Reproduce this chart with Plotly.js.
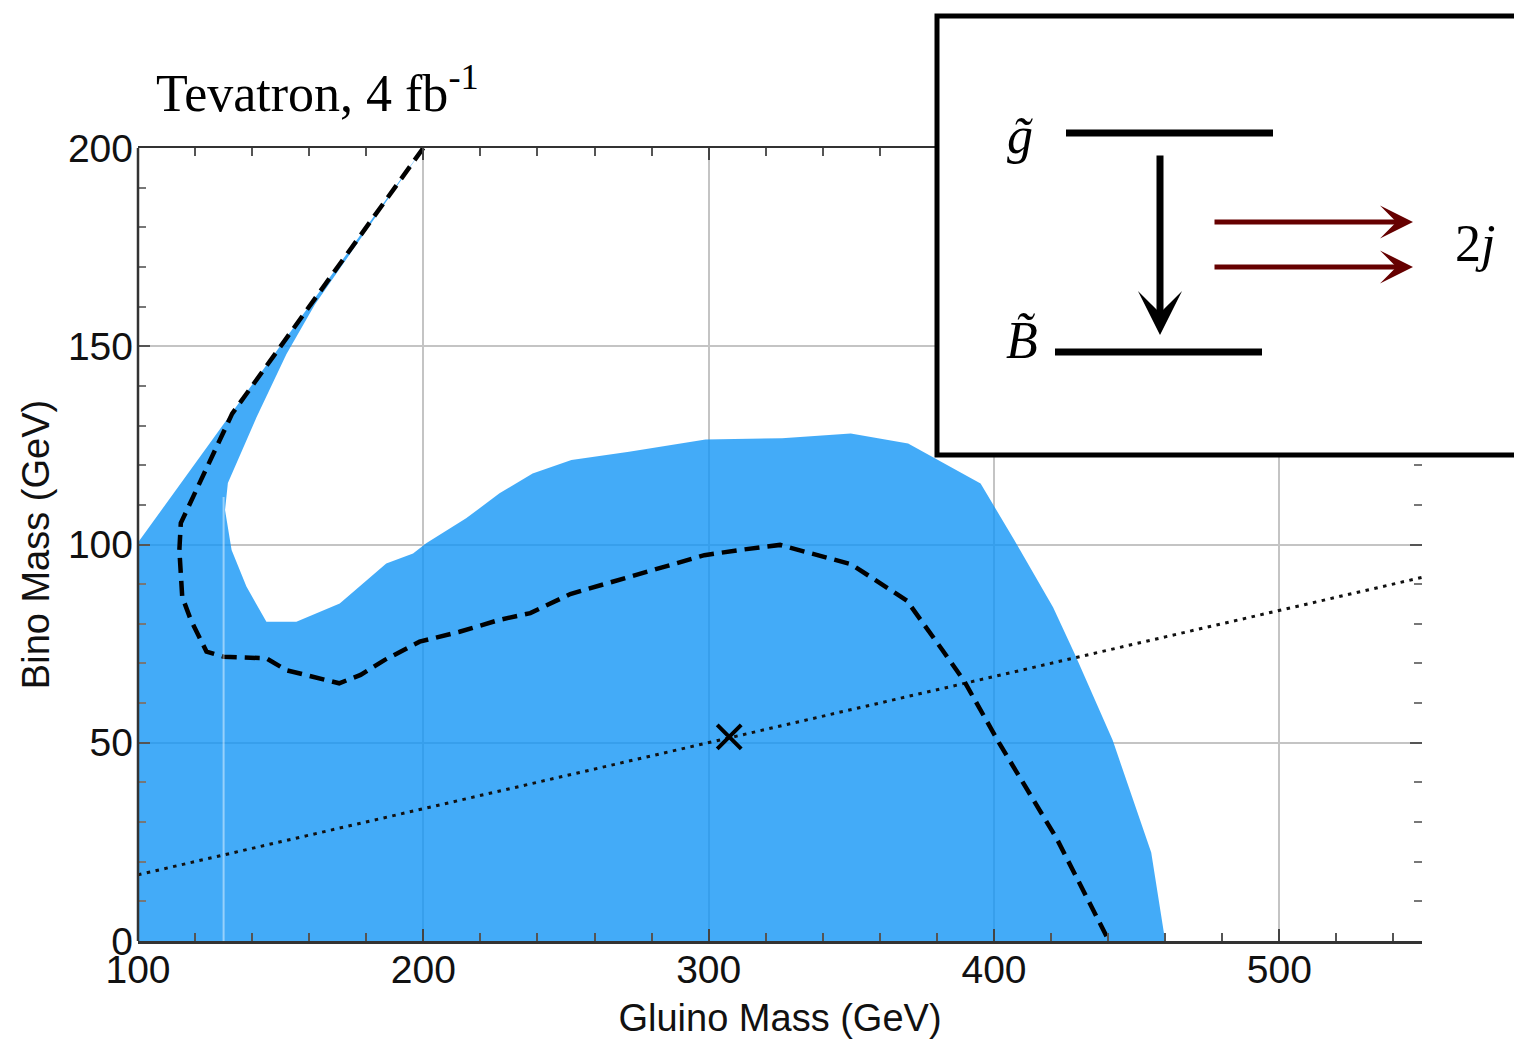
<!DOCTYPE html>
<html>
<head>
<meta charset="utf-8">
<script src="https://cdn.plot.ly/plotly-3.0.1.min.js"></script>
<style>
  html, body { margin: 0; padding: 0; background: #ffffff; }
  #chart { width: 1514px; height: 1039px; }
</style>
</head>
<body>
<div id="chart"></div>
<script>
// ---- Data ----
// Excluded region (blue polygon): gluino mass (x) vs bino mass (y)
const regionGluino = [100, 100, 200, 162, 152, 141.5, 131.5, 130.5, 132.8, 138, 145, 155.5, 170.7, 187, 196.4, 201, 215, 226.7, 238.3, 251.9, 272.1, 298.9, 325.7, 349.8, 369.9, 395.3, 407.2, 420.7, 428.1, 441.6, 455.1, 460, 100];
const regionBino   = [0, 100.5, 200, 160.5, 148, 132, 115.5, 108.7, 98.6, 89.4, 80.5, 80.5, 85.1, 95.2, 97.7, 100.3, 106.6, 112.9, 117.9, 121.3, 123.4, 126.5, 126.8, 128, 125.5, 115.4, 101, 84.2, 72.7, 50.6, 22.3, 0, 0];

// Dashed contour
const dashedGluino = [200, 133, 115, 114.5, 115.5, 118.5, 124, 130, 145, 152, 170.5, 178, 186.5, 198.7, 212.7, 226.7, 237.5, 251.5, 272, 298.5, 310.7, 325, 350, 369.5, 381.9, 389.5, 402, 422, 440.3];
const dashedBino   = [200, 133, 105.4, 98.6, 86.8, 81, 73, 71.7, 71.3, 68.3, 65, 67.1, 70.9, 75.5, 78, 81, 82.7, 87.5, 91.8, 97.3, 98.6, 99.9, 95, 85.8, 73.4, 65.6, 49.7, 25.8, 0];

// Dotted benchmark line
const dottedGluino = [100, 550];
const dottedBino   = [16.7, 91.7];

// Benchmark point (X)
const pointGluino = [307.2];
const pointBino   = [51.5];

// Axis ticks
const xTickVals = [100, 200, 300, 400, 500];
const yTickVals = [0, 50, 100, 150, 200];

// Texts
const titleText = 'Tevatron, 4 fb<sup>-1</sup>';
const xTitle = 'Gluino Mass (GeV)';
const yTitle = 'Bino Mass (GeV)';
const labelGluino = '<i>g\u0303</i>';
const labelBino = '<i>B\u0303</i>';
const labelJets = '2<i>j</i>';

// ---- Layout helpers: pixel -> paper coordinates ----
const W = 1514, H = 1039;
const M = { l: 138, r: 92, t: 148, b: 98 };
const PW = W - M.l - M.r, PH = H - M.t - M.b;
const px = (x) => (x - M.l) / PW;
const py = (y) => (H - M.b - y) / PH;

const traces = [
  {
    x: regionGluino, y: regionBino, type: 'scatter', mode: 'lines',
    fill: 'toself', fillcolor: 'rgba(20,150,246,0.80)',
    line: { width: 0, color: 'rgba(0,0,0,0)' }, hoverinfo: 'skip', showlegend: false
  },
  {
    x: dottedGluino, y: dottedBino, type: 'scatter', mode: 'lines',
    line: { color: '#111', width: 3, dash: '3.5px,5.5px' }, showlegend: false
  },
  {
    x: dashedGluino, y: dashedBino, type: 'scatter', mode: 'lines',
    line: { color: '#000', width: 4.5, dash: '15px,8px' }, showlegend: false
  },
  {
    x: pointGluino, y: pointBino, type: 'scatter', mode: 'markers',
    marker: { symbol: 'x-thin', size: 24, color: '#000', line: { color: '#000', width: 4 } },
    showlegend: false
  }
];

const tickFont = { family: 'Liberation Sans, Arial, sans-serif', size: 39, color: '#111' };
const titleFont = { family: 'Liberation Sans, Arial, sans-serif', size: 38, color: '#111' };

const layout = {
  width: W, height: H,
  margin: M,
  paper_bgcolor: '#ffffff', plot_bgcolor: '#ffffff',
  showlegend: false,
  xaxis: {
    range: [100, 550], tickvals: xTickVals, ticktext: xTickVals.map(String),
    showgrid: true, gridcolor: '#c4c4c4', gridwidth: 2, zeroline: false,
    showline: true, linecolor: '#333', linewidth: 2.5, mirror: 'ticks',
    ticks: 'inside', ticklen: 12, tickwidth: 2, tickcolor: '#444',
    minor: { dtick: 20, tick0: 100, ticks: 'inside', ticklen: 8, tickwidth: 2, tickcolor: '#555', showgrid: false },
    tickfont: tickFont, ticklabelstandoff: -7,
    title: { text: xTitle, font: titleFont, standoff: 16 },
    automargin: false
  },
  yaxis: {
    range: [0, 200], tickvals: yTickVals, ticktext: yTickVals.map(String),
    showgrid: true, gridcolor: '#c4c4c4', gridwidth: 2, zeroline: false,
    showline: false, mirror: 'ticks',
    ticks: 'inside', ticklen: 12, tickwidth: 2, tickcolor: '#555',
    minor: { dtick: 10, tick0: 0, ticks: 'inside', ticklen: 8, tickwidth: 2, tickcolor: '#777', showgrid: false },
    tickfont: tickFont, ticklabelstandoff: 4,
    title: { text: yTitle, font: titleFont, standoff: 6 },
    automargin: false
  },
  shapes: [
    // left axis line
    { type: 'line', xref: 'paper', yref: 'paper', x0: 0, x1: 0, y0: 0, y1: 1, line: { color: '#333', width: 2.5 }, layer: 'above' },
    // light grid line at 130 GeV (seen through the fill)
    { type: 'line', xref: 'x', yref: 'y', x0: 130, x1: 130, y0: 0, y1: 112, line: { color: 'rgba(255,255,255,0.45)', width: 2 }, layer: 'above' },
    // inset box
    { type: 'rect', xref: 'paper', yref: 'paper', x0: px(937), x1: px(1530), y0: py(455), y1: py(16),
      line: { color: '#000', width: 5 }, fillcolor: '#ffffff', layer: 'above' },
    // gluino level
    { type: 'line', xref: 'paper', yref: 'paper', x0: px(1066), x1: px(1273), y0: py(133), y1: py(133), line: { color: '#000', width: 7 }, layer: 'above' },
    // bino level
    { type: 'line', xref: 'paper', yref: 'paper', x0: px(1055), x1: px(1262), y0: py(352), y1: py(352), line: { color: '#000', width: 7 }, layer: 'above' }
  ],
  annotations: [
    { text: titleText, xref: 'paper', yref: 'paper', x: px(154), y: py(90), xanchor: 'left', yanchor: 'middle',
      showarrow: false, font: { family: 'Liberation Serif, Times New Roman, serif', size: 52, color: '#000' } },
    // decay arrow
    { text: '', xref: 'paper', yref: 'paper', x: px(1160), y: py(335), ax: 0, ay: -181,
      showarrow: true, arrowhead: 3, arrowsize: 1.05, arrowwidth: 7, arrowcolor: '#000', standoff: 0, startstandoff: 0 },
    // jets arrows
    { text: '', xref: 'paper', yref: 'paper', x: px(1413), y: py(222), ax: -200, ay: 0,
      showarrow: true, arrowhead: 3, arrowsize: 1.1, arrowwidth: 5, arrowcolor: '#660000', standoff: 0, startstandoff: 0 },
    { text: '', xref: 'paper', yref: 'paper', x: px(1413), y: py(267), ax: -200, ay: 0,
      showarrow: true, arrowhead: 3, arrowsize: 1.1, arrowwidth: 5, arrowcolor: '#660000', standoff: 0, startstandoff: 0 },
    { text: labelGluino, xref: 'paper', yref: 'paper', x: px(1020), y: py(135), xanchor: 'center', yanchor: 'middle',
      showarrow: false, font: { family: 'Liberation Serif, Times New Roman, serif', size: 52, color: '#000' } },
    { text: labelBino, xref: 'paper', yref: 'paper', x: px(1022), y: py(340), xanchor: 'center', yanchor: 'middle',
      showarrow: false, font: { family: 'Liberation Serif, Times New Roman, serif', size: 52, color: '#000' } },
    { text: labelJets, xref: 'paper', yref: 'paper', x: px(1475), y: py(243), xanchor: 'center', yanchor: 'middle',
      showarrow: false, font: { family: 'Liberation Serif, Times New Roman, serif', size: 52, color: '#000' } }
  ]
};

Plotly.newPlot('chart', traces, layout, { staticPlot: true, displayModeBar: false });
</script>
</body>
</html>
